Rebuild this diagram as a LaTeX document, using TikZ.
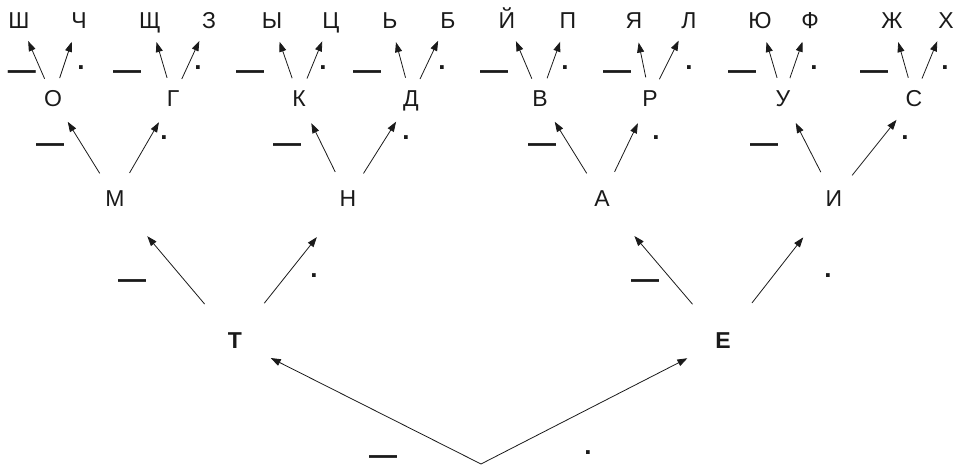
\documentclass[tikz,border=0pt]{standalone}
\usepackage{fontspec}
\setmainfont{Liberation Sans}
\usetikzlibrary{arrows.meta}
\definecolor{Ink}{HTML}{1A1A1A}
\tikzset{
  letter/.style={font=\fontsize{23}{26}\selectfont, text=Ink, text height=16.5pt, text depth=0pt, inner sep=0pt},
  first letter/.style={letter, font=\bfseries\fontsize{23}{26}\selectfont},
  dash mark/.style={font=\bfseries\fontsize{28}{30}\selectfont, text=Ink, inner sep=0pt},
  dot mark/.style={font=\bfseries\fontsize{26}{28}\selectfont, text=Ink, inner sep=0pt},
  branch/.style={-{Triangle[length=10pt,width=7pt]}, draw=Ink, line width=0.8pt},
  level one/.style={branch, shorten >=40pt},
  level two/.style={branch, shorten <=47pt, shorten >=50pt},
  level three/.style={branch, shorten <=29pt, shorten >=28pt},
  level four/.style={branch, shorten <=21pt, shorten >=23pt},
}

\begin{document}
\begin{tikzpicture}[x=1pt, y=1pt]
  \useasboundingbox (0,0) rectangle (957,469);

  % Start of every code: the two first signs.
  \coordinate (root) at (481,5);
  \node[first letter] (t) at (235,129) {Т};
  \node[first letter] (e) at (723,129) {Е};

  % Second sign.
  \node[letter] (m) at (115,271) {М};
  \node[letter] (n) at (348,271) {Н};
  \node[letter] (a) at (602,271) {А};
  \node[letter] (i) at (834,271) {И};

  % Third sign.
  \node[letter] (o) at (53,371) {О};
  \node[letter] (g) at (173,371) {Г};
  \node[letter] (k) at (299,371) {К};
  \node[letter] (d) at (411,371) {Д};
  \node[letter] (v) at (540,371) {В};
  \node[letter] (r) at (650,371) {Р};
  \node[letter] (u) at (783,371) {У};
  \node[letter] (s) at (914,371) {С};

  % Fourth sign, the leaves.
  \node[letter] (sha) at (19,449) {Ш};
  \node[letter] (che) at (79,449) {Ч};
  \node[letter] (shcha) at (150,449) {Щ};
  \node[letter] (ze) at (209,449) {З};
  \node[letter] (yery) at (272,449) {Ы};
  \node[letter] (tse) at (331,449) {Ц};
  \node[letter] (soft) at (390,449) {Ь};
  \node[letter] (be) at (448,449) {Б};
  \node[letter] (ikrat) at (507,449) {Й};
  \node[letter] (pe) at (568,449) {П};
  \node[letter] (ya) at (634,449) {Я};
  \node[letter] (el) at (689,449) {Л};
  \node[letter] (yu) at (760,449) {Ю};
  \node[letter] (ef) at (810,449) {Ф};
  \node[letter] (zhe) at (892,449) {Ж};
  \node[letter] (kha) at (946,449) {Х};

  % Dash to the left, dot to the right of each fork.
  \node[dash mark] (root-dash) at (383,9) {—};
  \node[dot mark] (root-dot) at (588,16) {.};

  \node[dash mark] (t-dash) at (132,185) {—};
  \node[dot mark] (t-dot) at (314,193) {.};
  \node[dash mark] (e-dash) at (645,185) {—};
  \node[dot mark] (e-dot) at (828,193) {.};

  \node[dash mark] (m-dash) at (50,321) {—};
  \node[dot mark] (m-dot) at (164,331) {.};
  \node[dash mark] (n-dash) at (287,321) {—};
  \node[dot mark] (n-dot) at (406,331) {.};
  \node[dash mark] (a-dash) at (542,321) {—};
  \node[dot mark] (a-dot) at (656,331) {.};
  \node[dash mark] (i-dash) at (764,321) {—};
  \node[dot mark] (i-dot) at (905,331) {.};

  \node[dash mark] (o-dash) at (22,394) {—};
  \node[dot mark] (o-dot) at (81,401) {.};
  \node[dash mark] (g-dash) at (127,394) {—};
  \node[dot mark] (g-dot) at (198,401) {.};
  \node[dash mark] (k-dash) at (250,394) {—};
  \node[dot mark] (k-dot) at (323,401) {.};
  \node[dash mark] (d-dash) at (367,394) {—};
  \node[dot mark] (d-dot) at (442,401) {.};
  \node[dash mark] (v-dash) at (494,394) {—};
  \node[dot mark] (v-dot) at (565,401) {.};
  \node[dash mark] (r-dash) at (617,394) {—};
  \node[dot mark] (r-dot) at (689,401) {.};
  \node[dash mark] (u-dash) at (742,394) {—};
  \node[dot mark] (u-dot) at (814,401) {.};
  \node[dash mark] (s-dash) at (874,394) {—};
  \node[dot mark] (s-dot) at (945,401) {.};

  % Branches.
  \draw[level one] (root) -- (t.center);
  \draw[level one] (root) -- (e.center);

  \draw[level two] (t.center) -- (m.center);
  \draw[level two] (t.center) -- (n.center);
  \draw[level two] (e.center) -- (a.center);
  \draw[level two] (e.center) -- (i.center);

  \draw[level three] (m.center) -- (o.center);
  \draw[level three] (m.center) -- (g.center);
  \draw[level three] (n.center) -- (k.center);
  \draw[level three] (n.center) -- (d.center);
  \draw[level three] (a.center) -- (v.center);
  \draw[level three] (a.center) -- (r.center);
  \draw[level three] (i.center) -- (u.center);
  \draw[level three] (i.center) -- (s.center);

  \draw[level four] (o.center) -- (sha.center);
  \draw[level four] (o.center) -- (che.center);
  \draw[level four] (g.center) -- (shcha.center);
  \draw[level four] (g.center) -- (ze.center);
  \draw[level four] (k.center) -- (yery.center);
  \draw[level four] (k.center) -- (tse.center);
  \draw[level four] (d.center) -- (soft.center);
  \draw[level four] (d.center) -- (be.center);
  \draw[level four] (v.center) -- (ikrat.center);
  \draw[level four] (v.center) -- (pe.center);
  \draw[level four] (r.center) -- (ya.center);
  \draw[level four] (r.center) -- (el.center);
  \draw[level four] (u.center) -- (yu.center);
  \draw[level four] (u.center) -- (ef.center);
  \draw[level four] (s.center) -- (zhe.center);
  \draw[level four] (s.center) -- (kha.center);
\end{tikzpicture}
\end{document}
